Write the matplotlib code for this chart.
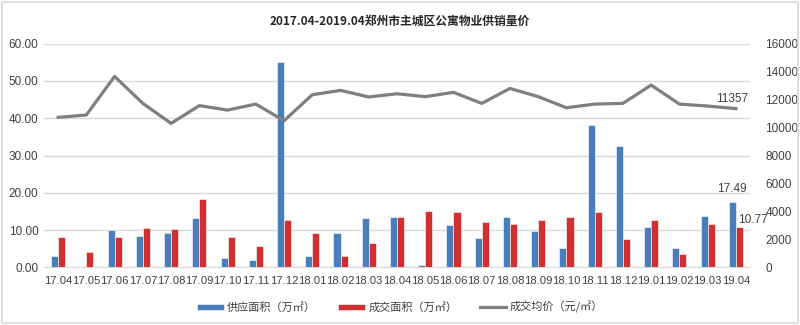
import numpy as np
import matplotlib
matplotlib.use("Agg")
import matplotlib.pyplot as plt
from matplotlib.patches import Rectangle

plt.rcParams['font.family'] = ['Liberation Sans', 'Noto Sans CJK SC', 'DejaVu Sans']

months = ['17.04', '17.05', '17.06', '17.07', '17.08', '17.09', '17.10', '17.11', '17.12',
          '18.01', '18.02', '18.03', '18.04', '18.05', '18.06', '18.07', '18.08', '18.09',
          '18.10', '18.11', '18.12', '19.01', '19.02', '19.03', '19.04']

# 供应面积 (万㎡)
supply = [3.0, 0.0, 10.0, 8.4, 9.3, 13.3, 2.6, 1.9, 55.0,
          3.0, 9.1, 13.3, 13.6, 0.6, 11.4, 7.8, 13.4, 9.8,
          5.3, 38.2, 32.6, 10.8, 5.2, 13.9, 17.49]

# 成交面积 (万㎡)
deal = [8.2, 4.0, 8.2, 10.6, 10.3, 18.3, 8.1, 5.6, 12.8,
        9.1, 3.0, 6.4, 13.4, 15.2, 14.8, 12.1, 11.6, 12.7,
        13.4, 14.8, 7.5, 12.7, 3.6, 11.6, 10.77]

# 成交均价 (元/㎡)
price = [10730, 10900, 13660, 11730, 10300, 11570, 11250, 11680, 10490,
         12350, 12660, 12190, 12420, 12210, 12520, 11730, 12800, 12210,
         11420, 11680, 11730, 13040, 11680, 11540, 11357]

blue = '#4a7ebb'
red = '#d0302f'
gray = '#7f7f7f'
txt = '#404040'

fig = plt.figure(figsize=(8, 3.25), dpi=100)
fig.patches.append(Rectangle((0.003, 0.006), 0.994, 0.988, transform=fig.transFigure,
                             fill=False, edgecolor='#d9d9d9', linewidth=1.2))

ax = fig.add_axes([0.055, 0.1775, 0.8825, 0.688])
ax2 = ax.twinx()

x = np.arange(len(months))
w = 0.25
ax.bar(x - w / 2, supply, w, color=blue, edgecolor='white', linewidth=0.4,
       label='供应面积（万㎡）', zorder=3)
ax.bar(x + w / 2, deal, w, color=red, edgecolor='white', linewidth=0.4,
       label='成交面积（万㎡）', zorder=3)
ax2.plot(x, price, color=gray, linewidth=2.3, label='成交均价（元/㎡）', zorder=4)

ax.set_xlim(-0.5, len(months) - 0.5)
ax.set_ylim(0, 60)
ax.set_yticks(np.arange(0, 61, 10))
ax.set_yticklabels([f'{v:.2f}' for v in np.arange(0, 61, 10)])
ax2.set_ylim(0, 16000)
ax2.set_yticks(np.arange(0, 16001, 2000))

ax.set_xticks(x)
ax.set_xticklabels(months)
ax.grid(axis='y', color='#d9d9d9', linewidth=1.0, zorder=0)
ax.set_axisbelow(True)

for a in (ax, ax2):
    for s in a.spines.values():
        s.set_visible(False)
    a.tick_params(length=0, labelsize=8.5, colors=txt)
ax.spines['bottom'].set_visible(True)
ax.spines['bottom'].set_color('#d9d9d9')
ax.tick_params(axis='y', pad=4)
ax2.tick_params(axis='y', pad=11)
ax.tick_params(axis='x', pad=6, labelsize=8.1)

ax.text(x[-1] - w / 2, supply[-1] + 2.0, '17.49', ha='center', va='bottom',
        fontsize=8.5, color=txt)
ax.text(x[-1] + w / 2 - 0.05, deal[-1] + 0.4, '10.77', ha='left', va='bottom',
        fontsize=8.5, color=txt)
ax2.text(x[-1] - 0.15, price[-1] + 280, '11357', ha='center', va='bottom',
         fontsize=8.5, color=txt)

fig.text(0.5, 0.935, '2017.04-2019.04郑州市主城区公寓物业供销量价', ha='center', va='center',
         fontsize=8.5, fontweight='bold', color='#262626',
         family=['Noto Sans CJK SC', 'DejaVu Sans'])

h1, l1 = ax.get_legend_handles_labels()
h2, l2 = ax2.get_legend_handles_labels()
fig.legend(h1 + h2, l1 + l2, loc='center', bbox_to_anchor=(0.5, 0.055), ncol=3,
           frameon=False, handlelength=2.4, handleheight=0.5,
           columnspacing=2.0, handletextpad=0.3, labelcolor=txt,
           prop={'family': ['Noto Sans CJK SC', 'DejaVu Sans'], 'size': 8})

fig.savefig('out.png', dpi=100)
